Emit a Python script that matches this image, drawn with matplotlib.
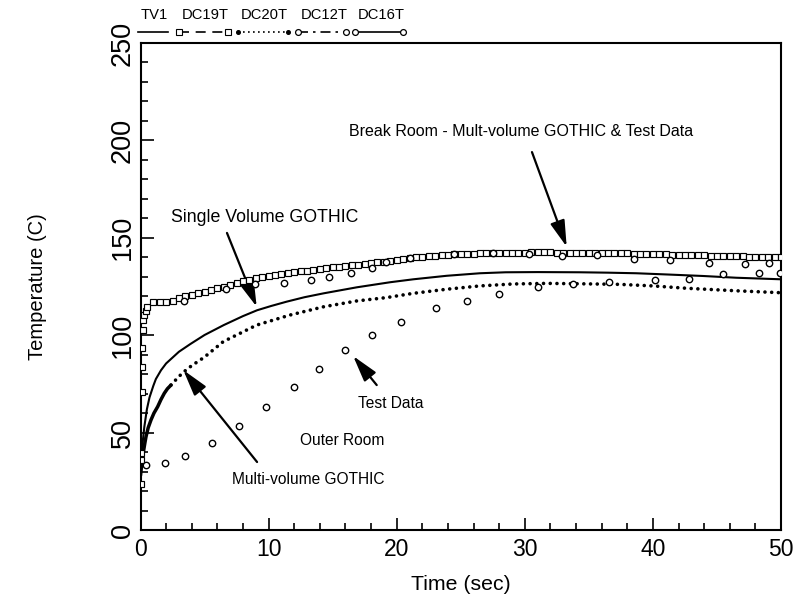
import matplotlib
matplotlib.use("Agg")
import matplotlib.pyplot as plt
from matplotlib.lines import Line2D

plt.rcParams["font.family"] = ["Liberation Sans", "DejaVu Sans"]

# ---- TV1: single volume GOTHIC (solid line) ----
tv1_t = [0.0, 0.05, 0.1, 0.2, 0.3, 0.5, 0.7, 1.0, 1.2, 1.6, 2.0, 2.5, 3.0, 3.9,
         5.0, 6.5, 8.0, 9.1, 10.2, 11.4, 12.8, 14.3, 16.9, 19.5, 21.3, 23.9,
         26.5, 28.5, 31.0, 34.3, 36.5, 38.7, 41.0, 43.9, 46.5, 50.0]
tv1_T = [30.0, 34.0, 39.0, 47.0, 53.0, 62.0, 68.0, 74.0, 77.5, 82.0, 85.5, 88.5,
         91.5, 95.5, 100.1, 105.2, 109.8, 112.8, 115.0, 117.2, 119.5, 121.5,
         124.6, 127.2, 128.7, 130.5, 131.8, 132.3, 132.4, 132.3, 132.1, 131.8,
         131.2, 130.4, 129.5, 128.7]

# ---- DC20T: multi-volume GOTHIC, outer room (dotted) ----
dc20_dense_t = [0.0, 0.05, 0.1, 0.17, 0.25, 0.35, 0.43, 0.6, 0.82, 1.05, 1.34,
                1.6, 1.86, 2.1, 2.38]
dc20_dense_T = [28.0, 31.0, 34.0, 37.6, 41.0, 45.0, 47.9, 52.5, 56.5, 60.0, 63.3,
                67.0, 70.2, 72.5, 74.4]
dc20_t = [2.38, 2.98, 3.5, 4.02, 4.46, 4.98, 6.46, 9.07, 11.7, 14.3, 16.9, 19.2,
          21.3, 23.9, 26.5, 29.1, 31.7, 34.3, 37.4, 40.0, 42.6, 46.5, 50.0]
dc20_T = [74.4, 78.7, 81.8, 84.5, 86.4, 88.7, 96.7, 105.2, 110.4, 114.6, 117.6,
          119.3, 121.5, 123.6, 125.3, 126.3, 126.6, 126.4, 126.1, 125.3, 124.1,
          122.8, 121.8]

# ---- DC19T: break room test data (squares) ----
dc19_t = [0.0, 0.02, 0.05, 0.08, 0.1, 0.13, 0.17, 0.22, 0.3, 0.4,
          0.5, 1.0, 1.5, 2.0, 2.5, 3.0, 3.5, 4.0, 4.5, 5.0,
          5.5, 6.0, 6.5, 7.0, 7.5, 8.0, 8.5, 9.0, 9.5, 10.0,
          10.5, 11.0, 11.5, 12.0, 12.5, 13.0, 13.5, 14.0, 14.5, 15.0,
          15.5, 16.0, 16.5, 17.0, 17.5, 18.0, 18.5, 19.0, 19.5, 20.0,
          20.5, 21.0, 21.5, 22.0, 22.5, 23.0, 23.5, 24.0, 24.5, 25.0,
          25.5, 26.0, 26.5, 27.0, 27.5, 28.0, 28.5, 29.0, 29.5, 30.0,
          30.5, 31.0, 31.5, 32.0, 32.5, 33.0, 33.5, 34.0, 34.5, 35.0,
          35.5, 36.0, 36.5, 37.0, 37.5, 38.0, 38.5, 39.0, 39.5, 40.0,
          40.5, 41.0, 41.5, 42.0, 42.5, 43.0, 43.5, 44.0, 44.5, 45.0,
          45.5, 46.0, 46.5, 47.0, 47.5, 48.0, 48.5, 49.0, 49.5, 50.0]
dc19_T = [23.6, 36.0, 39.4, 70.8, 83.8, 93.3, 102.7, 107.8, 110.5, 112.5,
          114.5, 117.0, 117.0, 117.2, 117.7, 119.0, 119.9, 120.6, 121.5, 122.4,
          123.2, 124.0, 124.9, 125.8, 126.7, 127.6, 128.5, 129.4, 129.9, 130.4,
          130.9, 131.3, 131.8, 132.3, 132.8, 133.2, 133.7, 134.1, 134.5, 134.9,
          135.2, 135.5, 135.8, 136.1, 136.6, 137.0, 137.4, 137.8, 138.2, 138.7,
          139.2, 139.7, 140.0, 140.3, 140.6, 140.9, 141.1, 141.3, 141.5, 141.6,
          141.8, 141.9, 142.0, 142.1, 142.2, 142.3, 142.3, 142.4, 142.4, 142.4,
          142.5, 142.5, 142.5, 142.5, 142.4, 142.4, 142.3, 142.3, 142.2, 142.2,
          142.1, 142.1, 142.0, 142.0, 142.0, 142.0, 141.9, 141.8, 141.7, 141.7,
          141.6, 141.5, 141.4, 141.3, 141.2, 141.2, 141.1, 141.0, 140.9, 140.9,
          140.8, 140.7, 140.6, 140.5, 140.4, 140.3, 140.2, 140.1, 140.0, 139.9]

# ---- DC12T: break room test data (open circles) ----
dc12_t = [3.4, 6.7, 8.9, 11.2, 13.3, 14.7, 16.4, 18.1, 19.2, 21.0, 24.5, 27.5,
          30.3, 32.9, 35.6, 38.5, 41.3, 44.4, 47.2, 49.1]
dc12_T = [117.5, 123.8, 126.3, 126.8, 128.3, 129.7, 131.8, 134.6, 137.4, 139.5,
          141.7, 142.4, 141.7, 140.8, 141.0, 139.3, 138.8, 137.2, 136.6, 137.3]

# ---- DC16T: outer room test data (open circles) ----
dc16_t = [0.4, 1.9, 3.45, 5.55, 7.7, 9.8, 12.0, 13.9, 16.0, 18.1, 20.3, 23.1,
          25.5, 28.0, 31.0, 33.8, 36.6, 40.2, 42.8, 45.5, 48.3, 49.9]
dc16_T = [33.6, 34.3, 37.8, 44.8, 53.4, 63.3, 73.6, 82.8, 92.2, 100.1, 106.6,
          113.8, 117.7, 121.1, 124.6, 126.5, 127.5, 128.3, 128.8, 131.2, 131.8,
          131.8]

legend_names = ["TV1", "DC19T", "DC20T", "DC12T", "DC16T"]

W, H = 799, 606
fig = plt.figure(figsize=(W / 100, H / 100), dpi=100)
ax_l, ax_r, ax_t, ax_b = 140.5, 781.0, 43.0, 530.0
ax = fig.add_axes([ax_l / W, 1 - ax_b / H, (ax_r - ax_l) / W, (ax_b - ax_t) / H])

sq = dict(marker="s", ms=5.0, mfc="white", mec="black", mew=0.85, ls="none")
circ = dict(marker="o", ms=4.6, mfc="white", mec="black", mew=1.0, ls="none")

ax.plot(tv1_t, tv1_T, color="black", lw=1.5, zorder=3)
ax.plot(dc20_dense_t, dc20_dense_T, color="black", lw=2.5,
        solid_capstyle="round", zorder=3)
ax.plot(dc20_t, dc20_T, color="black", lw=2.6, ls=(0, (0.01, 1.85)),
        dash_capstyle="round", zorder=3)
ax.plot(dc19_t, dc19_T, zorder=4, **sq)
ax.plot(dc12_t, dc12_T, zorder=5, **circ)
ax.plot(dc16_t, dc16_T, zorder=5, **circ)

ax.set_xlim(0, 50)
ax.set_ylim(0, 250)
ax.set_xticks([0, 10, 20, 30, 40, 50])
ax.set_xticks(list(range(0, 51, 2)), minor=True)
ax.set_yticks([0, 50, 100, 150, 200, 250])
ax.set_yticks(list(range(0, 251, 10)), minor=True)
ax.tick_params(which="both", direction="in", top=False, right=False,
               width=1.2, colors="black")
ax.tick_params(which="major", length=9)
ax.tick_params(which="minor", length=5)
ax.tick_params(axis="x", labelsize=16.5, pad=6)
ax.tick_params(axis="y", labelsize=19.5, pad=3.5)
for lab in ax.get_yticklabels():
    lab.set_rotation(90)
    lab.set_va("center")
for sp in ax.spines.values():
    sp.set_linewidth(1.5)

ax.set_xlabel("Time (sec)", fontsize=15.3)
ax.xaxis.set_label_coords(0.5, -0.092)
ax.set_ylabel("Temperature (C)", fontsize=14.5)
ax.yaxis.set_label_coords(-0.146, 0.5)

arrow = dict(arrowstyle="-|>,head_length=1.6,head_width=0.45", color="black",
             lw=1.6, shrinkA=0, shrinkB=0, mutation_scale=10)

ax.text(29.7, 204.5, "Break Room - Mult-volume GOTHIC & Test Data",
        fontsize=11.5, ha="center", va="center")
ax.annotate("", xy=(33.27, 145.4), xytext=(30.56, 194.0), arrowprops=arrow)

ax.text(9.72, 160.2, "Single Volume GOTHIC", fontsize=12.8,
        ha="center", va="center")
ax.annotate("", xy=(9.07, 114.6), xytext=(6.75, 152.5), arrowprops=arrow)

ax.text(13.1, 25.7, "Multi-volume GOTHIC", fontsize=11.2,
        ha="center", va="center")
ax.annotate("", xy=(3.34, 82.1), xytext=(9.1, 34.9), arrowprops=arrow)

ax.text(15.73, 46.2, "Outer Room", fontsize=11.2, ha="center", va="center")

ax.text(19.55, 64.7, "Test Data", fontsize=11.2, ha="center", va="center")
ax.annotate("", xy=(16.6, 89.3), xytext=(18.44, 74.4), arrowprops=arrow)

# legend row above the frame: name on top, line sample underneath
def fx(px):
    return px / W

def fy(py):
    return 1 - py / H

leg_y_text, leg_y_line = 15.0, 32.0
entries = [
    (legend_names[0], 138, 168, dict(ls="-"), None),
    (legend_names[1], 179, 228, dict(ls=(0, (6, 4))), dict(marker="s", ms=4.2, mfc="white", mec="black", mew=0.8)),
    (legend_names[2], 238, 288, dict(ls=(0, (1, 2))), dict(marker="o", ms=2.6, mfc="black", mec="black")),
    (legend_names[3], 298, 346, dict(ls=(0, (6, 3, 1.5, 3))), dict(marker="o", ms=4.2, mfc="white", mec="black", mew=0.9)),
    (legend_names[4], 355, 403, dict(ls="-"), dict(marker="o", ms=4.2, mfc="white", mec="black", mew=0.9)),
]
for name, x0, x1, lstyle, mstyle in entries:
    fig.add_artist(Line2D([fx(x0), fx(x1)], [fy(leg_y_line)] * 2, color="black",
                          lw=1.2, transform=fig.transFigure, **lstyle))
    if mstyle is not None:
        fig.add_artist(Line2D([fx(x0), fx(x1)], [fy(leg_y_line)] * 2, ls="none",
                              transform=fig.transFigure, **mstyle))
    fig.text(fx(x0 + 3), fy(leg_y_text), name, fontsize=10.6, ha="left", va="center")

fig.savefig("out.png", dpi=100)
